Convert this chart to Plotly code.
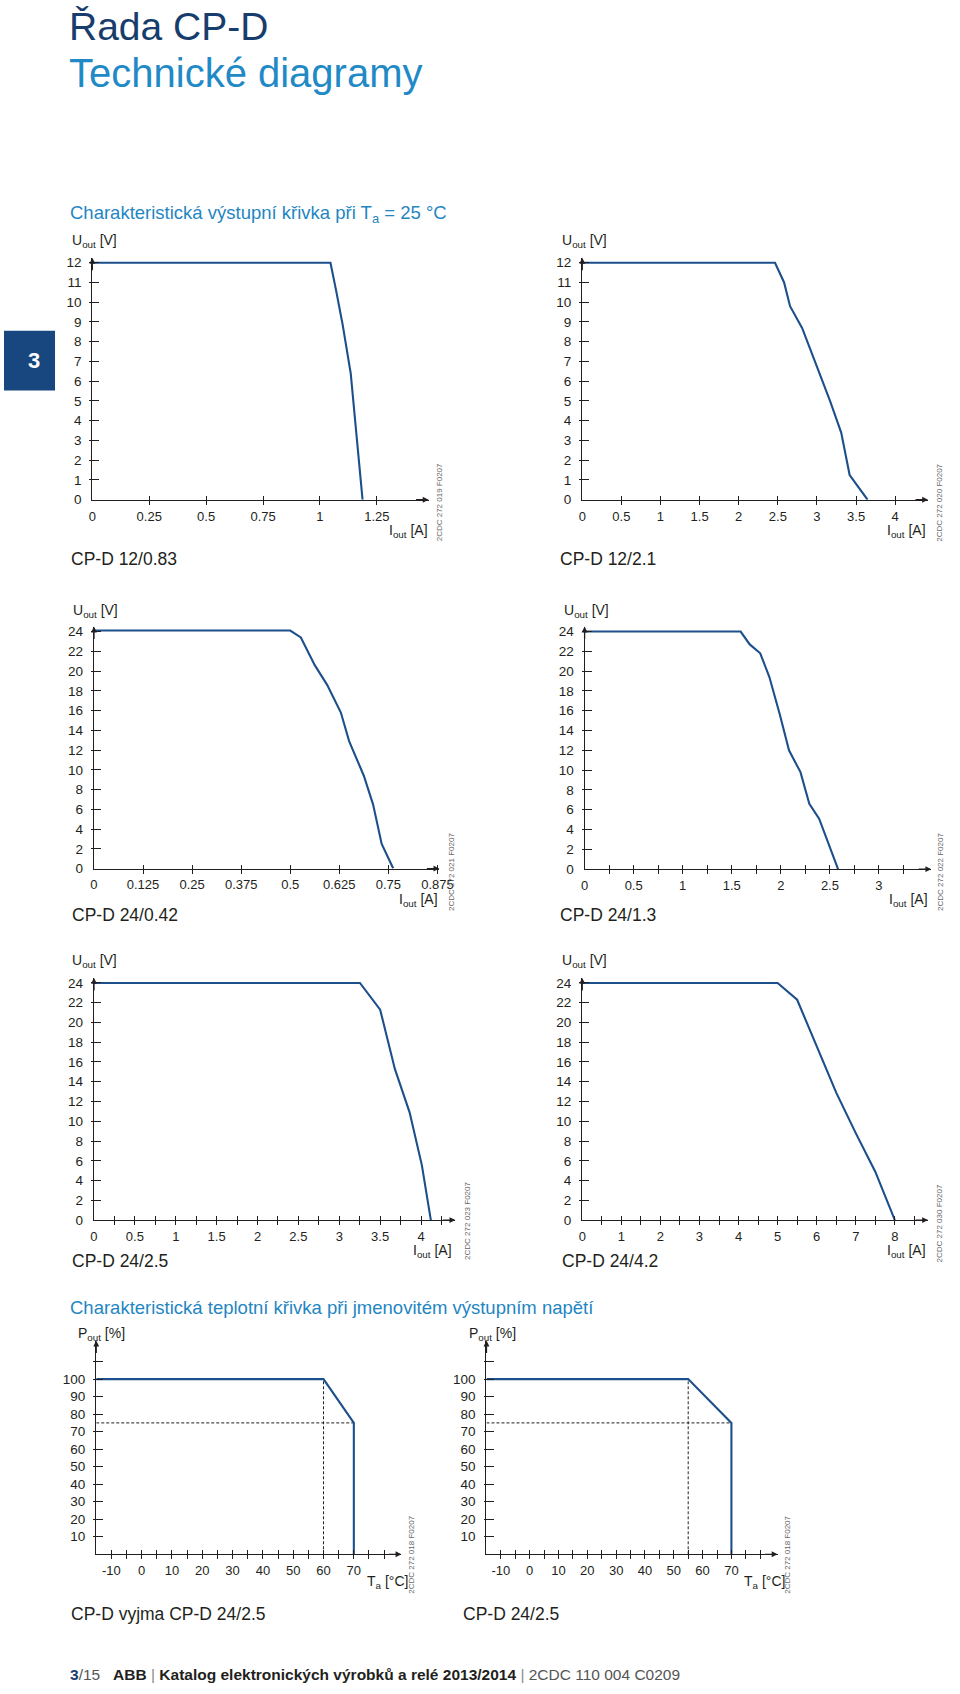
import plotly.graph_objects as go

W, H = 960, 1694

# ---------------- data ----------------
# output characteristic curves (I_out [A] vs U_out [V])
i_12_083 = [0, 1.046, 1.069, 1.099, 1.135, 1.187]
u_12_083 = [12, 12, 10.7, 8.9, 6.4, 0]

i_12_21 = [0, 2.464, 2.58, 2.656, 2.81, 3.167, 3.31, 3.418, 3.647]
u_12_21 = [12, 12, 11.0, 9.8, 8.7, 5.0, 3.4, 1.25, 0]

i_24_042 = [0, 0.5, 0.527, 0.5625, 0.594, 0.629, 0.65, 0.6875, 0.711, 0.733, 0.7625]
u_24_042 = [24.1, 24.1, 23.4, 20.6, 18.6, 15.8, 12.9, 9.4, 6.5, 2.5, 0]

i_24_13 = [0, 1.59, 1.683, 1.79, 1.883, 1.99, 2.083, 2.2, 2.29, 2.39, 2.583]
u_24_13 = [24, 24, 22.7, 21.8, 19.4, 15.6, 12.0, 9.8, 6.6, 5.1, 0]

i_24_25 = [0, 3.253, 3.5, 3.68, 3.86, 4.01, 4.12]
u_24_25 = [24, 24, 21.3, 15.3, 10.9, 5.56, 0]

i_24_42 = [0, 5, 5.5, 6.5, 7, 7.5, 8]
u_24_42 = [24, 24, 22.3, 12.9, 8.8, 4.9, 0]

# temperature derating curves (T_a [°C] vs P_out [%])
t_std = [-15, 60, 70, 70]
p_std = [100, 100, 75, 0]
t_2425 = [-15, 55, 70, 70]
p_2425 = [100, 100, 75, 0]
derate_start_std = 60
derate_start_2425 = 55
derate_end = 70
p_reduced = 75

names = ["CP-D 12/0.83", "CP-D 12/2.1", "CP-D 24/0.42", "CP-D 24/1.3",
         "CP-D 24/2.5", "CP-D 24/4.2", "CP-D vyjma CP-D 24/2.5", "CP-D 24/2.5"]
codes = ["2CDC 272 019 F0207", "2CDC 272 020 F0207", "2CDC 272 021 F0207",
         "2CDC 272 022 F0207", "2CDC 272 023 F0207", "2CDC 272 030 F0207",
         "2CDC 272 018 F0207", "2CDC 272 018 F0207"]


def ticks(a, b, s):
    n = int(round((b - a) / s))
    return [round(a + k * s, 6) for k in range(n + 1)]


def fx(px):
    return px / W


def fy(py):
    return 1 - py / H


CURVE = "#1d4f8b"
INK = "#231f20"
FONT = "Liberation Sans, Arial, sans-serif"

U_T = "U<sub>out</sub> [V]"
I_T = "I<sub>out</sub> [A]"
P_T = "P<sub>out</sub> [%]"
T_T = "T<sub>a</sub> [°C]"

panels = [
    dict(x=i_12_083, y=u_12_083, xpx=(90, 432.7), xr=(0, 1.477), ypx=(500.7, 257.3), yr=(0, 12.25),
         xt=ticks(0.25, 1.25, 0.25), xl=ticks(0, 1.25, 0.25), yt=ticks(1, 12, 1), yl=ticks(0, 12, 1),
         yt_pos=(67.3, 240.7), xt_pos=(390, 531.7), code_pos=(443.3, 503.3), name_pos=(66, 560.5),
         ytitle=U_T, xtitle=I_T),
    dict(x=i_12_21, y=u_12_21, xpx=(589.3, 941.7), xr=(0, 4.42), ypx=(500.7, 257.3), yr=(0, 12.25),
         xt=ticks(0.5, 4, 0.5), xl=ticks(0, 4, 0.5), yt=ticks(1, 12, 1), yl=ticks(0, 12, 1),
         yt_pos=(566.7, 240.7), xt_pos=(898.3, 531.7), code_pos=(953.3, 503.3), name_pos=(565, 560.5),
         ytitle=U_T, xtitle=I_T),
    dict(x=i_24_042, y=u_24_042, xpx=(91.7, 443.7), xr=(0, 0.88), ypx=(871.7, 628.3), yr=(0, 24.5),
         xt=ticks(0.125, 0.875, 0.125), xl=ticks(0, 0.875, 0.125), yt=ticks(2, 24, 2), yl=ticks(0, 24, 2),
         yt_pos=(68.3, 612.7), xt_pos=(400, 903.3), code_pos=(456.7, 875), name_pos=(67, 918.3),
         ytitle=U_T, xtitle=I_T),
    dict(x=i_24_13, y=u_24_13, xpx=(591.7, 945), xr=(0, 3.533), ypx=(872.3, 628.3), yr=(0, 24.5),
         xt=ticks(0.25, 3.25, 0.25), xl=ticks(0, 3, 0.5), yt=ticks(2, 24, 2), yl=ticks(0, 24, 2),
         yt_pos=(568.3, 612.7), xt_pos=(900, 903.3), code_pos=(955, 875), name_pos=(565, 918.3),
         ytitle=U_T, xtitle=I_T),
    dict(x=i_24_25, y=u_24_25, xpx=(91.7, 460), xr=(0, 4.42), ypx=(1225.3, 981.8), yr=(0, 24.5),
         xt=ticks(0.25, 4.25, 0.25), xl=ticks(0, 4, 0.5), yt=ticks(2, 24, 2), yl=ticks(0, 24, 2),
         yt_pos=(67.3, 965), xt_pos=(415, 1256.7), code_pos=(473, 1226), name_pos=(67, 1266.7),
         ytitle=U_T, xtitle=I_T),
    dict(x=i_24_42, y=u_24_42, xpx=(589.3, 941.7), xr=(0, 8.85), ypx=(1225.3, 981.8), yr=(0, 24.5),
         xt=ticks(0.5, 8.5, 0.5), xl=ticks(0, 8, 1), yt=ticks(2, 24, 2), yl=ticks(0, 24, 2),
         yt_pos=(566.7, 965), xt_pos=(898.3, 1256.7), code_pos=(953.3, 1228.3), name_pos=(566.7, 1266.7),
         ytitle=U_T, xtitle=I_T),
    dict(x=t_std, y=p_std, xpx=(94, 405), xr=(-15, 85.7), ypx=(1561.5, 1346.5), yr=(0, 122),
         xt=ticks(-10, 80, 5), xl=ticks(-10, 70, 10), yt=ticks(10, 110, 10), yl=ticks(10, 100, 10),
         yt_pos=(73.3, 1340), xt_pos=(368.3, 1589), code_pos=(415, 1561.7), name_pos=(66, 1621.7),
         ytitle=P_T, xtitle=T_T, dashx=derate_start_std),
    dict(x=t_2425, y=p_2425, xpx=(491.7, 788.3), xr=(-15, 86), ypx=(1561.5, 1346.5), yr=(0, 122),
         xt=ticks(-10, 80, 5), xl=ticks(-10, 70, 10), yt=ticks(10, 110, 10), yl=ticks(10, 100, 10),
         yt_pos=(471.7, 1340), xt_pos=(751.7, 1589), code_pos=(798.3, 1561.7), name_pos=(466, 1621.7),
         ytitle=P_T, xtitle=T_T, dashx=derate_start_2425),
]

fig = go.Figure()
layout = {}
annotations = []
N = len(panels)

for k, p in enumerate(panels, start=1):
    xs = "x" if k == 1 else f"x{k}"
    ys = "y" if k == 1 else f"y{k}"
    xk = "xaxis" if k == 1 else f"xaxis{k}"
    yk = "yaxis" if k == 1 else f"yaxis{k}"
    ox, oy = f"x{k + N}", f"y{k + N}"
    oxk, oyk = f"xaxis{k + N}", f"yaxis{k + N}"
    x0, x1 = p["xpx"]
    yb, yt = p["ypx"]

    layout[xk] = dict(domain=[fx(x0), fx(x1)], range=list(p["xr"]), anchor=ys,
                      showline=True, linecolor=INK, linewidth=1.4, ticks="",
                      tickmode="array", tickvals=p["xl"], ticktext=[f"{v:g}" for v in p["xl"]],
                      ticklabelstandoff=4, showgrid=False, zeroline=False,
                      tickfont=dict(family=FONT, size=13, color=INK), fixedrange=True)
    layout[yk] = dict(domain=[fy(yb), fy(yt)], range=list(p["yr"]), anchor=xs,
                      showline=True, linecolor=INK, linewidth=1.4, ticks="",
                      tickmode="array", tickvals=p["yl"], ticktext=[f"{v:g}" for v in p["yl"]],
                      ticklabelstandoff=7, showgrid=False, zeroline=False,
                      tickfont=dict(family=FONT, size=13.5, color=INK), fixedrange=True)
    # crossing tick marks via overlay axes
    layout[oxk] = dict(overlaying=xs, anchor="free", position=fy(yb + 5), range=list(p["xr"]),
                       ticks="inside", ticklen=9, tickwidth=1.3, tickcolor=INK,
                       tickmode="array", tickvals=p["xt"], showticklabels=False,
                       showline=False, showgrid=False, zeroline=False, fixedrange=True)
    layout[oyk] = dict(overlaying=ys, anchor="free", position=fx(x0 - 4), range=list(p["yr"]),
                       ticks="inside", ticklen=10, tickwidth=1.3, tickcolor=INK,
                       tickmode="array", tickvals=p["yt"], showticklabels=False,
                       showline=False, showgrid=False, zeroline=False, fixedrange=True)
    fig.add_trace(go.Scatter(x=[None], y=[None], xaxis=ox, yaxis=oy, showlegend=False,
                             hoverinfo="skip"))

    if "dashx" in p:
        fig.add_trace(go.Scatter(x=[p["dashx"], p["dashx"]], y=[0, p["y"][0]], xaxis=xs, yaxis=ys,
                                 mode="lines", line=dict(color=INK, width=1, dash="3px,2px"),
                                 showlegend=False, hoverinfo="skip", cliponaxis=False))
        fig.add_trace(go.Scatter(x=[p["xr"][0], derate_end], y=[p_reduced, p_reduced], xaxis=xs, yaxis=ys,
                                 mode="lines", line=dict(color=INK, width=1, dash="3px,2px"),
                                 showlegend=False, hoverinfo="skip", cliponaxis=False))

    fig.add_trace(go.Scatter(x=p["x"], y=p["y"], xaxis=xs, yaxis=ys, mode="lines",
                             line=dict(color=CURVE, width=2.1), showlegend=False,
                             hoverinfo="skip", cliponaxis=False))

    # axis arrows
    annotations.append(dict(x=p["xr"][1], y=p["yr"][0], xref=xs, yref=ys, ax=-14, ay=0, text="",
                            showarrow=True, arrowhead=2, arrowsize=0.9, arrowwidth=1.3, arrowcolor=INK))
    annotations.append(dict(x=p["xr"][0], y=p["yr"][1], xref=xs, yref=ys, ax=0, ay=14, text="",
                            showarrow=True, arrowhead=2, arrowsize=0.9, arrowwidth=1.3, arrowcolor=INK))
    # titles
    annotations.append(dict(x=fx(p["yt_pos"][0]), y=fy(p["yt_pos"][1]), xref="paper", yref="paper",
                            text=p["ytitle"], showarrow=False, xanchor="left", yanchor="middle",
                            font=dict(family=FONT, size=14, color=INK)))
    annotations.append(dict(x=fx(p["xt_pos"][0]), y=fy(p["xt_pos"][1]), xref="paper", yref="paper",
                            text=p["xtitle"], showarrow=False, xanchor="left", yanchor="middle",
                            font=dict(family=FONT, size=14, color=INK)))
    annotations.append(dict(x=fx(p["code_pos"][0]), y=fy(p["code_pos"][1]), xref="paper", yref="paper",
                            text=codes[k - 1], showarrow=False, textangle=-90,
                            xanchor="center", yanchor="middle",
                            font=dict(family=FONT, size=8, color="#666666")))
    annotations.append(dict(x=fx(p["name_pos"][0]), y=fy(p["name_pos"][1]), xref="paper", yref="paper",
                            text=names[k - 1], showarrow=False, xanchor="left", yanchor="middle",
                            font=dict(family=FONT, size=17.5, color=INK)))

# page headers
annotations += [
    dict(x=fx(64), y=fy(25), xref="paper", yref="paper", text="Řada CP-D", showarrow=False,
         xanchor="left", yanchor="middle", font=dict(family=FONT, size=39, color="#173d6c")),
    dict(x=fx(64), y=fy(71), xref="paper", yref="paper", text="Technické diagramy", showarrow=False,
         xanchor="left", yanchor="middle", font=dict(family=FONT, size=40, color="#1f8ac6")),
    dict(x=fx(65), y=fy(213), xref="paper", yref="paper",
         text="Charakteristická výstupní křivka při T<sub>a</sub> = 25 °C", showarrow=False,
         xanchor="left", yanchor="middle", font=dict(family=FONT, size=18.5, color="#1f86c2")),
    dict(x=fx(65), y=fy(1313), xref="paper", yref="paper",
         text="Charakteristická teplotní křivka při jmenovitém výstupním napětí", showarrow=False,
         xanchor="left", yanchor="middle", font=dict(family=FONT, size=18.5, color="#1f86c2")),
    dict(x=fx(31), y=fy(361), xref="paper", yref="paper", text="<b>3</b>", showarrow=False,
         xanchor="center", yanchor="middle", font=dict(family=FONT, size=22, color="white")),
    dict(x=fx(65), y=fy(1682), xref="paper", yref="paper",
         text=("<b><span style='color:#173d6c'>3</span></b><span style='color:#555555'>/15</span>"
               "&nbsp;&nbsp;&nbsp;<b>ABB</b> <span style='color:#888888'>|</span> "
               "<b>Katalog elektronických výrobků a relé 2013/2014</b> "
               "<span style='color:#888888'>|</span> <span style='color:#555555'>2CDC 110 004 C0209</span>"),
         showarrow=False, xanchor="left", yanchor="middle", font=dict(family=FONT, size=15.5, color=INK)),
]

shapes = [dict(type="rect", xref="paper", yref="paper", x0=0, x1=fx(52), y0=fy(390.7), y1=fy(330.7),
               fillcolor="#17477e", line=dict(width=0))]

fig.update_layout(**layout)
fig.update_layout(width=W, height=H, margin=dict(l=0, r=0, t=0, b=0),
                  paper_bgcolor="white", plot_bgcolor="rgba(0,0,0,0)",
                  annotations=annotations, shapes=shapes, showlegend=False,
                  font=dict(family=FONT, color=INK))

fig.write_html("out.html", config={"displayModeBar": False},
               post_script="document.body.style.margin='0px';")
